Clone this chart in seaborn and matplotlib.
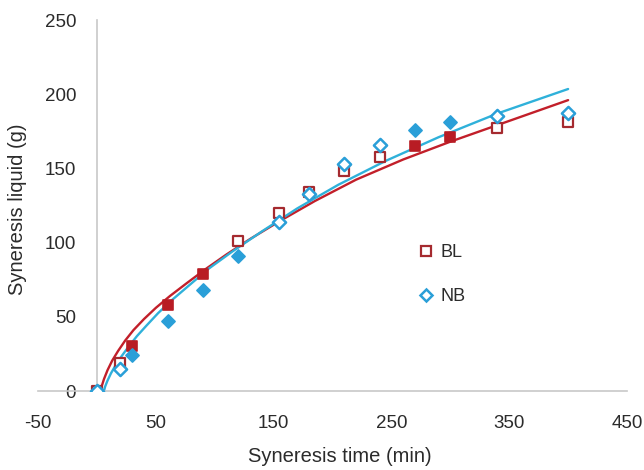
import matplotlib
matplotlib.use("Agg")
import matplotlib.pyplot as plt
import seaborn as sns
import pandas as pd
from matplotlib.lines import Line2D

# ---- data ----
time_pts = [0, 20, 30, 60, 90, 120, 155, 180, 210, 240, 270, 300, 340, 400]
bl_vals = [0, 19, 30, 58, 79, 101, 120, 134, 148, 158, 165, 171, 177, 181]
nb_vals = [0, 15, 24, 47, 68, 91, 114, 133, 153, 166, 176, 181, 185, 187]
bl_filled = [False, False, True, True, True, False, False, False, False, False, True, True, False, False]
nb_filled = [False, False, True, True, True, True, False, False, False, False, True, True, False, False]

# fitted trend curves
bl_fit_t = [3, 4, 6, 9, 13, 18, 24, 31, 40, 50, 62, 76, 92, 110, 130, 155, 185, 220, 260, 300, 345, 400]
bl_fit_y = [0, 3, 8, 14, 20.5, 27, 34, 41, 48.5, 56, 64, 72.5, 82, 92, 102.4, 114.4, 128, 142.4, 156, 168, 180.6, 196]
nb_fit_t = [6, 7, 9, 12, 16, 21, 27, 34, 42, 52, 64, 78, 95, 115, 140, 170, 205, 245, 290, 340, 400]
nb_fit_y = [0, 3, 7, 12, 17.5, 23.5, 30, 37, 44, 52.5, 61.5, 71, 82.5, 94, 107.5, 123, 139, 155, 171, 187, 203.5]

x_ticks = [-50, 50, 150, 250, 350, 450]
y_ticks = [0, 50, 100, 150, 200, 250]

RED_LINE = "#c21f2a"
RED_MARK = "#b81c24"
RED_EDGE = "#a52a2f"
BLUE_LINE = "#2fb1da"
BLUE_MARK = "#2a9fd8"
TXT = "#2b2b2b"

sns.set_theme(style="white")
plt.rcParams['font.family'] = ['Liberation Sans', 'DejaVu Sans']
plt.rcParams['axes.unicode_minus'] = False

fig = plt.figure(figsize=(6.44, 4.70), dpi=100)
ax = fig.add_axes([38 / 644, 1 - 391 / 470, 589 / 644, 371 / 470])

sns.lineplot(x=bl_fit_t, y=bl_fit_y, ax=ax, color=RED_LINE, lw=1.7, zorder=2)
sns.lineplot(x=nb_fit_t, y=nb_fit_y, ax=ax, color=BLUE_LINE, lw=1.7, zorder=2)

df_bl = pd.DataFrame({"t": time_pts, "v": bl_vals, "f": bl_filled})
df_nb = pd.DataFrame({"t": time_pts, "v": nb_vals, "f": nb_filled})

sq = 60
dm = 45
sns.scatterplot(data=df_bl[df_bl.f], x="t", y="v", ax=ax, marker="s", s=sq,
                color=RED_MARK, edgecolor=RED_MARK, linewidth=1.2, zorder=3)
sns.scatterplot(data=df_bl[~df_bl.f], x="t", y="v", ax=ax, marker="s", s=sq,
                facecolor="white", edgecolor=RED_EDGE, linewidth=1.6, zorder=3)
sns.scatterplot(data=df_nb[df_nb.f], x="t", y="v", ax=ax, marker="D", s=dm,
                color=BLUE_MARK, edgecolor=BLUE_MARK, linewidth=1.2, zorder=4)
sns.scatterplot(data=df_nb[~df_nb.f], x="t", y="v", ax=ax, marker="D", s=dm,
                facecolor="white", edgecolor=BLUE_MARK, linewidth=1.8, zorder=4)

ax.set_xlim(-50, 450)
ax.set_ylim(0, 250)
ax.set_xticks(x_ticks)
ax.set_yticks(y_ticks)

ax.spines['top'].set_visible(False)
ax.spines['right'].set_visible(False)
ax.spines['left'].set_position(('data', 0))
for s in ['left', 'bottom']:
    ax.spines[s].set_color("#c8c8c8")
    ax.spines[s].set_linewidth(1.2)

ax.tick_params(axis='both', which='major', direction='out', length=5, width=1.2,
               color="#c8c8c8", labelsize=13.5, labelcolor=TXT)
ax.tick_params(axis='x', pad=12)
ax.tick_params(axis='y', pad=10)

ax.set_xlabel("Syneresis time (min)", fontsize=14.5, color=TXT)
ax.set_ylabel("Syneresis liquid (g)", fontsize=14.5, color=TXT)
ax.xaxis.set_label_coords(0.512, -0.15)
ax.yaxis.set_label_coords(-0.019, 0.49)

handles = [
    Line2D([0], [0], marker='s', linestyle='none', markersize=7,
           markerfacecolor='white', markeredgecolor=RED_EDGE, markeredgewidth=1.6, label='BL'),
    Line2D([0], [0], marker='D', linestyle='none', markersize=6,
           markerfacecolor='white', markeredgecolor=BLUE_MARK, markeredgewidth=1.8, label='NB'),
]
leg = ax.legend(handles=handles, loc='upper left', bbox_to_anchor=(0.645, 0.396),
                frameon=False, handlelength=0.9, handletextpad=0.35,
                labelspacing=1.5, borderaxespad=0, borderpad=0, fontsize=13)
for t in leg.get_texts():
    t.set_color(TXT)

fig.savefig("out.png", dpi=100)
